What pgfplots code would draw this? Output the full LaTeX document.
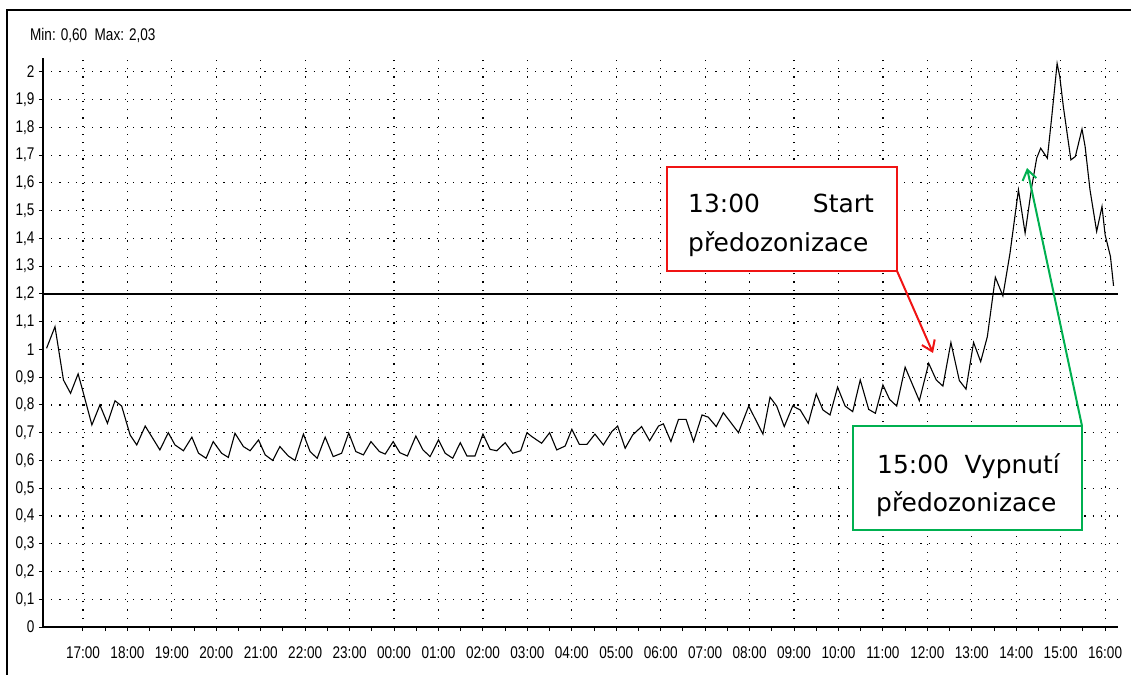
\documentclass[border=0pt]{standalone}
\usepackage{fontspec}
\setmainfont{DejaVu Sans}
\newfontfamily\tickfont[FakeStretch=0.8]{Liberation Sans}
\usepackage{pgfplots}
\pgfplotsset{compat=1.18}
\usetikzlibrary{arrows.meta}
\definecolor{annred}{RGB}{240,20,20}
\definecolor{anngreen}{RGB}{0,176,80}

\pgfplotstableread{
h v
0.18 1.004
0.37 1.082
0.56 0.89
0.72 0.842
0.89 0.912
1.00 0.848
1.20 0.728
1.38 0.80
1.55 0.734
1.72 0.815
1.87 0.796
2.06 0.692
2.21 0.656
2.40 0.724
2.73 0.638
2.92 0.70
3.07 0.656
3.26 0.635
3.45 0.684
3.60 0.626
3.77 0.608
3.93 0.668
4.12 0.626
4.27 0.611
4.42 0.698
4.61 0.65
4.76 0.635
4.95 0.674
5.10 0.62
5.27 0.60
5.43 0.65
5.62 0.616
5.77 0.60
5.96 0.695
6.11 0.632
6.27 0.608
6.45 0.684
6.63 0.614
6.82 0.626
6.98 0.699
7.14 0.632
7.31 0.62
7.48 0.668
7.67 0.632
7.80 0.623
7.98 0.668
8.13 0.628
8.30 0.616
8.49 0.688
8.65 0.638
8.81 0.614
9.00 0.674
9.15 0.626
9.32 0.608
9.49 0.664
9.64 0.616
9.82 0.616
10.00 0.695
10.16 0.64
10.31 0.635
10.50 0.664
10.67 0.626
10.85 0.635
10.99 0.70
11.10 0.686
11.32 0.662
11.50 0.70
11.66 0.638
11.85 0.652
12.00 0.712
12.17 0.658
12.34 0.658
12.52 0.695
12.71 0.656
12.90 0.704
13.03 0.724
13.20 0.644
13.37 0.692
13.57 0.722
13.75 0.671
13.95 0.724
14.06 0.732
14.23 0.668
14.40 0.748
14.57 0.748
14.74 0.668
14.93 0.764
15.07 0.756
15.25 0.722
15.41 0.772
15.75 0.70
15.98 0.796
16.30 0.695
16.46 0.828
16.61 0.796
16.78 0.722
16.97 0.796
17.14 0.782
17.32 0.734
17.50 0.84
17.65 0.782
17.81 0.764
17.98 0.864
18.15 0.796
18.32 0.776
18.49 0.89
18.68 0.784
18.83 0.77
19.00 0.872
19.15 0.82
19.31 0.796
19.50 0.936
19.82 0.815
20.03 0.95
20.20 0.89
20.35 0.868
20.53 1.025
20.72 0.888
20.87 0.857
21.04 1.025
21.20 0.956
21.35 1.046
21.53 1.26
21.70 1.193
21.86 1.347
22.05 1.575
22.20 1.419
22.35 1.587
22.46 1.689
22.55 1.725
22.70 1.689
22.80 1.839
22.92 2.03
22.98 1.983
23.06 1.875
23.23 1.683
23.33 1.695
23.48 1.794
23.55 1.731
23.66 1.575
23.81 1.425
23.93 1.515
24.00 1.413
24.12 1.335
24.19 1.229
}\datatable

\begin{document}
\begin{tikzpicture}
\useasboundingbox (0bp,0bp) rectangle (1131bp,675bp);
\draw[line width=1.5bp] (7bp,-5bp) -- (7bp,665bp) -- (1135bp,665bp);
\node[anchor=west, font=\tickfont\fontsize{17}{19}\selectfont, inner sep=0pt] at (30bp,640bp) {Min: 0,60\ \ Max: 2,03};
\begin{axis}[
  at={(43bp,48bp)}, anchor=south west, scale only axis,
  width=1075bp, height=569bp,
  xmin=0.1, xmax=24.29, ymin=0, ymax=2.05,
  axis x line*=bottom, axis y line*=left,
  axis line style={-, line width=2.5bp, black},
  xtick={1,...,24},
  xticklabels={17:00,18:00,19:00,20:00,21:00,22:00,23:00,00:00,01:00,02:00,03:00,04:00,05:00,06:00,07:00,08:00,09:00,10:00,11:00,12:00,13:00,14:00,15:00,16:00},
  minor x tick num=1,
  ytick={0,0.1,0.2,0.3,0.4,0.5,0.6,0.7,0.8,0.9,1,1.1,1.2,1.3,1.4,1.5,1.6,1.7,1.8,1.9,2},
  /pgf/number format/use comma,
  /pgf/number format/assume math mode=true,
  tick align=outside,
  major tick length=4bp, minor tick length=4bp,
  tick style={black, line width=1bp},
  xmajorgrids, ymajorgrids,
  grid style={black, line width=1.2bp, dash pattern=on 1.2bp off 7bp},
  xticklabel style={font=\tickfont\fontsize{17}{19}\selectfont, yshift=-12bp},
  yticklabel style={font=\tickfont\fontsize{17}{19}\selectfont, xshift=-1bp},
  clip=false,
]
\addplot[black, line width=1.2bp, forget plot] coordinates {(0.1,1.2) (24.29,1.2)};
\addplot[black, line width=1.1bp] table[x=h, y=v] {\datatable};
\end{axis}
\draw[annred, line width=2bp, fill=white] (667bp,404bp) rectangle (897bp,508bp);
\node[anchor=base west, inner sep=0pt, font=\fontsize{25}{30}\selectfont] at (688bp,462bp) {13:00};
\node[anchor=base east, inner sep=0pt, font=\fontsize{25}{30}\selectfont] at (874bp,462bp) {Start};
\node[anchor=base west, inner sep=0pt, font=\fontsize{25}{30}\selectfont] at (688bp,423bp) {předozonizace};
\draw[annred, line width=2bp, -{Straight Barb[length=10bp,width=14bp]}] (897bp,404bp) -- (933bp,322bp);
\draw[anngreen, line width=2bp, fill=white] (853bp,145bp) rectangle (1082bp,249bp);
\node[anchor=base west, inner sep=0pt, font=\fontsize{25}{30}\selectfont] at (877bp,201.7bp) {15:00};
\node[anchor=base east, inner sep=0pt, font=\fontsize{25}{30}\selectfont] at (1060bp,201.7bp) {Vypnutí};
\node[anchor=base west, inner sep=0pt, font=\fontsize{25}{30}\selectfont] at (876bp,163.3bp) {předozonizace};
\draw[anngreen, line width=2bp, -{Straight Barb[length=10bp,width=14bp]}] (1082bp,249bp) -- (1027bp,507bp);
\end{tikzpicture}
\end{document}
